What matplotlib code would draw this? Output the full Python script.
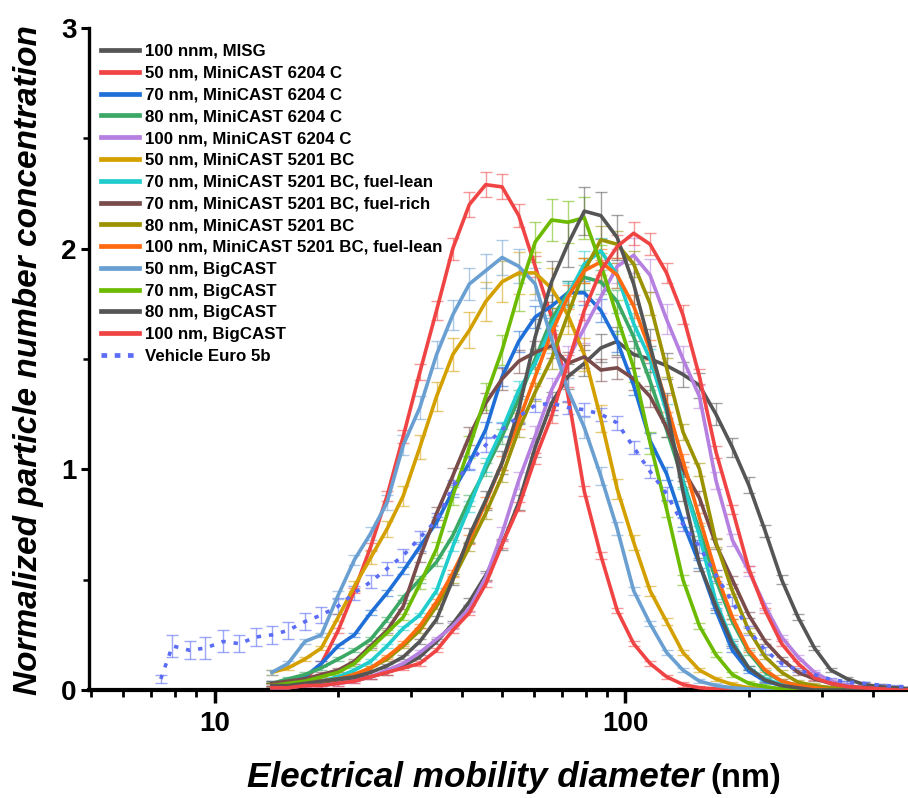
import matplotlib
matplotlib.use('Agg')
import matplotlib.pyplot as plt
from matplotlib.lines import Line2D
from matplotlib.ticker import FixedLocator, MultipleLocator, NullFormatter, FixedFormatter
import numpy as np

plt.rcParams['font.family'] = ['Liberation Sans', 'DejaVu Sans']

# ---------------- data ----------------
diam = [13.8, 15.1, 16.6, 18.2, 20.0, 21.9, 24.0, 26.3, 28.8, 31.6,
        34.7, 38.0, 41.7, 45.7, 50.1, 55.0, 60.3, 66.1, 72.4, 79.4,
        87.1, 95.5, 104.7, 114.8, 125.9, 138.0, 151.4, 166.0, 182.0, 199.5,
        218.8, 239.9, 263.0, 288.4, 316.2, 346.7, 380.2, 416.9, 457.1, 501.2]

diam_euro = [7.4, 7.9, 8.7, 9.5, 10.5, 11.5, 12.6,
             13.8, 15.1, 16.6, 18.2, 20.0, 21.9, 24.0, 26.3, 28.8, 31.6,
             34.7, 38.0, 41.7, 45.7, 50.1, 55.0, 60.3, 66.1, 72.4, 79.4,
             87.1, 95.5, 104.7, 114.8, 125.9, 138.0, 151.4, 166.0, 182.0, 199.5,
             218.8, 239.9, 263.0, 288.4, 316.2, 346.7, 380.2, 416.9, 457.1, 501.2]

misg_100 = [0.02, 0.02, 0.02, 0.03, 0.04, 0.05, 0.06, 0.08, 0.11, 0.15,
            0.22, 0.30, 0.40, 0.52, 0.66, 0.85, 1.10, 1.30, 1.42, 1.48,
            1.55, 1.58, 1.52, 1.50, 1.47, 1.43, 1.38, 1.25, 1.10, 0.93,
            0.72, 0.50, 0.33, 0.19, 0.09, 0.05, 0.025, 0.015, 0.01, 0.005]

mini6204_50 = [0.02, 0.03, 0.05, 0.12, 0.27, 0.45, 0.65, 0.88, 1.15, 1.44,
               1.72, 2.00, 2.20, 2.29, 2.28, 2.15, 1.92, 1.69, 1.34, 0.90,
               0.61, 0.36, 0.21, 0.12, 0.06, 0.025, 0.01, 0.005, 0, 0,
               0, 0, 0, 0, 0, 0, 0, 0, 0, 0]

mini6204_70 = [0.03, 0.04, 0.06, 0.12, 0.20, 0.25, 0.35, 0.44, 0.54, 0.65,
               0.76, 0.90, 1.03, 1.18, 1.42, 1.58, 1.69, 1.74, 1.80, 1.80,
               1.72, 1.58, 1.38, 1.13, 0.98, 0.76, 0.57, 0.36, 0.18, 0.085,
               0.04, 0.02, 0.01, 0.005, 0, 0, 0, 0, 0, 0]

mini6204_80 = [0.03, 0.05, 0.07, 0.10, 0.14, 0.18, 0.23, 0.32, 0.42, 0.50,
               0.58, 0.70, 0.86, 1.00, 1.15, 1.32, 1.50, 1.68, 1.80, 1.87,
               1.85, 1.76, 1.60, 1.40, 1.18, 0.95, 0.72, 0.50, 0.31, 0.17,
               0.08, 0.04, 0.02, 0.01, 0, 0, 0, 0, 0, 0]

mini6204_100 = [0.01, 0.01, 0.02, 0.02, 0.03, 0.04, 0.06, 0.09, 0.12, 0.17,
                0.23, 0.29, 0.37, 0.51, 0.71, 0.95, 1.15, 1.36, 1.50, 1.64,
                1.78, 1.92, 1.97, 1.88, 1.68, 1.50, 1.33, 0.95, 0.68, 0.54,
                0.38, 0.24, 0.15, 0.08, 0.04, 0.02, 0.01, 0.005, 0, 0]

mini5201_50 = [0.08, 0.10, 0.14, 0.19, 0.33, 0.47, 0.60, 0.73, 0.88, 1.10,
               1.33, 1.52, 1.63, 1.76, 1.85, 1.89, 1.89, 1.82, 1.70, 1.52,
               1.23, 0.91, 0.67, 0.45, 0.31, 0.17, 0.09, 0.05, 0.025, 0.01,
               0.005, 0, 0, 0, 0, 0, 0, 0, 0, 0]

mini5201_70_lean = [0.02, 0.02, 0.03, 0.04, 0.06, 0.09, 0.13, 0.20, 0.28, 0.34,
                    0.45, 0.65, 0.83, 1.02, 1.18, 1.36, 1.48, 1.65, 1.79, 1.93,
                    1.99, 1.88, 1.66, 1.50, 1.26, 0.94, 0.70, 0.40, 0.22, 0.10,
                    0.05, 0.025, 0.01, 0.005, 0, 0, 0, 0, 0, 0]

mini5201_70_rich = [0.03, 0.04, 0.05, 0.07, 0.09, 0.13, 0.20, 0.27, 0.38, 0.60,
                    0.80, 0.97, 1.15, 1.30, 1.41, 1.49, 1.53, 1.56, 1.48, 1.51,
                    1.45, 1.46, 1.41, 1.33, 1.19, 1.00, 0.87, 0.66, 0.50, 0.34,
                    0.22, 0.14, 0.08, 0.05, 0.03, 0.015, 0.01, 0.005, 0, 0]

mini5201_80 = [0.02, 0.02, 0.03, 0.04, 0.05, 0.07, 0.10, 0.14, 0.20, 0.27,
               0.38, 0.50, 0.65, 0.80, 0.97, 1.18, 1.35, 1.50, 1.70, 1.90,
               2.04, 2.02, 1.93, 1.75, 1.46, 1.17, 1.00, 0.67, 0.45, 0.27,
               0.15, 0.08, 0.035, 0.02, 0.01, 0.005, 0, 0, 0, 0]

mini5201_100_lean = [0.02, 0.02, 0.03, 0.04, 0.05, 0.07, 0.10, 0.15, 0.21, 0.29,
                     0.40, 0.53, 0.68, 0.85, 1.03, 1.22, 1.42, 1.62, 1.78, 1.90,
                     1.94, 1.88, 1.74, 1.54, 1.30, 1.04, 0.78, 0.53, 0.33, 0.18,
                     0.09, 0.04, 0.02, 0.01, 0, 0, 0, 0, 0, 0]

big_50 = [0.08, 0.12, 0.22, 0.25, 0.43, 0.59, 0.71, 0.85, 1.11, 1.28,
          1.52, 1.70, 1.84, 1.90, 1.96, 1.92, 1.84, 1.59, 1.36, 1.19,
          0.97, 0.73, 0.45, 0.30, 0.17, 0.09, 0.04, 0.02, 0.01, 0.005,
          0, 0, 0, 0, 0, 0, 0, 0, 0, 0]

big_70 = [0.02, 0.03, 0.04, 0.06, 0.08, 0.12, 0.19, 0.26, 0.33, 0.48,
          0.64, 0.88, 1.10, 1.33, 1.54, 1.80, 2.03, 2.13, 2.12, 2.14,
          1.93, 1.69, 1.46, 1.12, 0.82, 0.50, 0.29, 0.16, 0.07, 0.03,
          0.015, 0.005, 0, 0, 0, 0, 0, 0, 0, 0]

big_80 = [0.02, 0.02, 0.03, 0.04, 0.05, 0.06, 0.08, 0.11, 0.15, 0.22,
          0.32, 0.50, 0.70, 0.86, 1.03, 1.27, 1.60, 1.85, 2.02, 2.17,
          2.15, 2.05, 1.84, 1.56, 1.28, 0.90, 0.57, 0.38, 0.21, 0.10,
          0.045, 0.02, 0.01, 0, 0, 0, 0, 0, 0, 0]

big_100 = [0.01, 0.01, 0.02, 0.02, 0.03, 0.04, 0.06, 0.08, 0.10, 0.12,
           0.18, 0.27, 0.35, 0.48, 0.66, 0.83, 1.05, 1.24, 1.48, 1.72,
           1.90, 2.01, 2.07, 2.02, 1.89, 1.70, 1.42, 1.08, 0.82, 0.55,
           0.36, 0.21, 0.12, 0.055, 0.03, 0.015, 0.01, 0.005, 0, 0]

euro5b = [0.05, 0.20, 0.18, 0.19, 0.22, 0.21, 0.24,
          0.25, 0.27, 0.31, 0.34, 0.38, 0.44, 0.49, 0.55, 0.61, 0.69,
          0.77, 0.92, 1.03, 1.11, 1.18, 1.24, 1.29, 1.30, 1.28, 1.27,
          1.25, 1.21, 1.10, 0.99, 0.89, 0.75, 0.65, 0.52, 0.40, 0.27,
          0.18, 0.12, 0.09, 0.07, 0.048, 0.036, 0.03, 0.022, 0.016, 0.012]

euro5b_err = [0.02, 0.05, 0.04, 0.05, 0.05, 0.04, 0.04,
              0.04, 0.04, 0.04, 0.035, 0.035, 0.03, 0.03, 0.03, 0.03, 0.03,
              0.03, 0.03, 0.03, 0.03, 0.03, 0.03, 0.03, 0.03, 0.03, 0.03,
              0.03, 0.03, 0.03, 0.03, 0.03, 0.03, 0.03, 0.025, 0.02, 0.02,
              0.015, 0.01, 0.01, 0.01, 0.008, 0.006, 0.005, 0.005, 0.005, 0.005]

labels = ['100 nnm, MISG', '50 nm, MiniCAST 6204 C', '70 nm, MiniCAST 6204 C',
          '80 nm, MiniCAST 6204 C', '100 nm, MiniCAST 6204 C', '50 nm, MiniCAST 5201 BC',
          '70 nm, MiniCAST 5201 BC, fuel-lean', '70 nm, MiniCAST 5201 BC, fuel-rich',
          '80 nm, MiniCAST 5201 BC', '100 nm, MiniCAST 5201 BC, fuel-lean',
          '50 nm, BigCAST', '70 nm, BigCAST', '80 nm, BigCAST', '100 nm, BigCAST']
series = [misg_100, mini6204_50, mini6204_70, mini6204_80, mini6204_100, mini5201_50,
          mini5201_70_lean, mini5201_70_rich, mini5201_80, mini5201_100_lean,
          big_50, big_70, big_80, big_100]
rel_err = [0.04, 0.025, 0.03, 0.03, 0.04, 0.05, 0.03, 0.035, 0.03, 0.03,
           0.04, 0.045, 0.05, 0.025]
euro_label = 'Vehicle Euro 5b'

# ---------------- style ----------------
colors = ['#555555', '#f04444', '#1f6fd8', '#3ca865', '#b580e0', '#d4a000',
          '#20cccc', '#7a4b4b', '#9a9200', '#ff6a10', '#6a9fd2', '#6cbb00',
          '#555555', '#f04444']
euro_color = '#5b6cf6'

W, H = 908, 798
fig = plt.figure(figsize=(W / 100, H / 100), dpi=100)
ax = fig.add_axes([89 / W, 108 / H, (W - 89) / W, (690 - 28) / H])

for y, col, rel in zip(series, colors, rel_err):
    yv = np.array(y, dtype=float)
    e = np.maximum(yv * rel, 0.01)
    ax.errorbar(diam, yv, yerr=e, fmt='none', ecolor=col, alpha=0.55,
                elinewidth=1.0, capsize=4, capthick=1.0, zorder=2)
    ax.plot(diam, yv, color=col, lw=2.6, solid_joinstyle='round', zorder=3)

ax.errorbar(diam_euro, euro5b, yerr=euro5b_err, fmt='none', ecolor=euro_color,
            alpha=0.6, elinewidth=1.0, capsize=4, capthick=1.0, zorder=2)
ax.plot(diam_euro, euro5b, color=euro_color, lw=2.6, ls=(0, (1.2, 2.2)), zorder=3)

ax.set_xscale('log')
ax.set_xlim(4.95, 487)
ax.set_ylim(0, 3)

ax.xaxis.set_major_locator(FixedLocator([10, 100]))
ax.xaxis.set_major_formatter(FixedFormatter(['10', '100']))
minors = [m * 10 ** k for k in (0, 1, 2) for m in range(2, 10)]
ax.xaxis.set_minor_locator(FixedLocator(minors))
ax.xaxis.set_minor_formatter(NullFormatter())
ax.yaxis.set_major_locator(FixedLocator([0, 1, 2, 3]))
ax.yaxis.set_minor_locator(MultipleLocator(0.5))

for s in ('top', 'right'):
    ax.spines[s].set_visible(False)
ax.spines['bottom'].set_linewidth(3.0)
ax.spines['left'].set_linewidth(2.4)

ax.tick_params(axis='x', which='major', direction='out', length=9, width=2.5, pad=6,
               labelsize=20)
ax.tick_params(axis='x', which='minor', direction='out', length=5, width=2.0)
ax.tick_params(axis='y', which='major', direction='out', length=6, width=2.2, pad=3,
               labelsize=20)
ax.tick_params(axis='y', which='minor', direction='out', length=4, width=1.8)
for lab in ax.get_xticklabels() + ax.get_yticklabels():
    lab.set_fontweight('bold')

# axis labels
fig.text(704 / W, 1 - 787 / H, 'Electrical mobility diameter', ha='right', va='baseline',
         fontsize=25.3, fontweight='bold', fontstyle='italic')
fig.text(710 / W, 1 - 787 / H, '(nm)', ha='left', va='baseline',
         fontsize=23.5, fontweight='bold')
fig.text(29 / W, 1 - 360 / H, 'Normalized particle number concentration', rotation=90,
         ha='center', va='center', fontsize=24, fontweight='bold', fontstyle='italic')

# legend
handles = [Line2D([0], [0], color=c, lw=3.4) for c in colors]
handles.append(Line2D([0], [0], color=euro_color, lw=3.4, ls=(0, (1.2, 1.6))))
leg = fig.legend(handles, labels + [euro_label], loc='upper left',
                 bbox_to_anchor=(101 / W, 1 - 44 / H), bbox_transform=fig.transFigure,
                 frameon=False, borderpad=0, borderaxespad=0,
                 handlelength=2.25, handletextpad=0.36, labelspacing=0.40,
                 prop={'weight': 'bold', 'size': 12.2})

fig.savefig('out.png', dpi=100)
